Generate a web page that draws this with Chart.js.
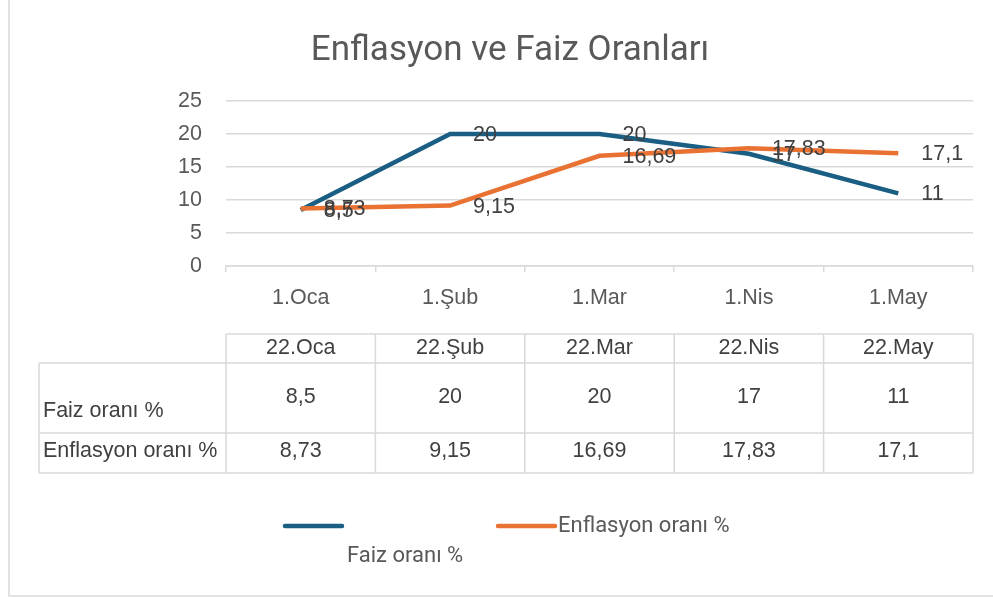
<!DOCTYPE html>
<html>
<head>
<meta charset="utf-8">
<script src="https://cdn.jsdelivr.net/npm/chart.js@4.4.1/dist/chart.umd.min.js"></script>
<style>
  html, body { margin: 0; padding: 0; background: #fff; }
  #wrap { position: relative; width: 993px; height: 598px; }
</style>
</head>
<body>
<div id="wrap"><canvas id="chart" width="993" height="598"></canvas></div>
<script>
// veriler
const axisLabels = ['1.Oca', '1.Şub', '1.Mar', '1.Nis', '1.May'];
const tableHeaders = ['22.Oca', '22.Şub', '22.Mar', '22.Nis', '22.May'];
const faizLabel = 'Faiz oranı %';
const enflasyonLabel = 'Enflasyon oranı %';
const faizValues = [8.5, 20, 20, 17, 11];
const enflasyonValues = [8.73, 9.15, 16.69, 17.83, 17.1];
const yTicks = [0, 5, 10, 15, 20, 25];

const BLUE = '#1b5e83';
const ORANGE = '#e97132';
const GRID = '#d9d9d9';
const TXT = '#404040';
const FONT = '"Liberation Sans", Arial, sans-serif';
const NARROW = '"Roboto", sans-serif';
const FS = 21.5;

const fmt = v => String(v).replace('.', ',');

// etiketler, tablo, başlık ve gösterge
const extras = {
    id: 'extras',
    afterDatasetsDraw(chart) {
        const ctx = chart.ctx;
        ctx.save();
        // veri etiketleri
        ctx.font = FS + 'px ' + FONT;
        ctx.fillStyle = TXT;
        ctx.textAlign = 'left';
        ctx.textBaseline = 'middle';
        chart.data.datasets.forEach((ds, i) => {
            chart.getDatasetMeta(i).data.forEach((pt, j) => {
                ctx.fillText(fmt(ds.data[j]), pt.x + 23, pt.y + 1);
            });
        });
        ctx.restore();
    },
    afterDraw(chart) {
        const ctx = chart.ctx;
        const x = chart.scales.x;
        const n = axisLabels.length;
        const half = (x.getPixelForValue(1) - x.getPixelForValue(0)) / 2;
        const edges = [];
        for (let i = 0; i < n; i++) edges.push(x.getPixelForValue(i) - half);
        edges.push(x.getPixelForValue(n - 1) + half);
        ctx.save();

        // başlık
        ctx.font = '35px ' + NARROW;
        ctx.fillStyle = '#595959';
        ctx.textAlign = 'center';
        ctx.textBaseline = 'alphabetic';
        ctx.fillText('Enflasyon ve Faiz Oranları', 510, 60);

        // veri tablosu
        const tLeft = 39, rows = [334, 363, 433, 473];
        ctx.strokeStyle = GRID;
        ctx.lineWidth = 1.5;
        ctx.beginPath();
        ctx.moveTo(edges[0], rows[0]); ctx.lineTo(edges[n], rows[0]);
        for (let r = 1; r < rows.length; r++) {
            ctx.moveTo(tLeft, rows[r]); ctx.lineTo(edges[n], rows[r]);
        }
        ctx.moveTo(tLeft, rows[1]); ctx.lineTo(tLeft, rows[3]);
        edges.forEach(e => { ctx.moveTo(e, rows[0]); ctx.lineTo(e, rows[3]); });
        ctx.stroke();

        ctx.font = FS + 'px ' + FONT;
        ctx.fillStyle = TXT;
        ctx.textAlign = 'center';
        ctx.textBaseline = 'middle';
        for (let i = 0; i < n; i++) {
            const cx = x.getPixelForValue(i);
            ctx.fillText(tableHeaders[i], cx, 348);
            ctx.fillText(fmt(faizValues[i]), cx, 397);
            ctx.fillText(fmt(enflasyonValues[i]), cx, 451);
        }
        ctx.textAlign = 'left';
        ctx.fillText(faizLabel, 43, 411);
        ctx.fillText(enflasyonLabel, 43, 451);

        // gösterge
        ctx.lineWidth = 4.5;
        ctx.lineCap = 'round';
        ctx.strokeStyle = BLUE;
        ctx.beginPath(); ctx.moveTo(285, 526); ctx.lineTo(342, 526); ctx.stroke();
        ctx.strokeStyle = ORANGE;
        ctx.beginPath(); ctx.moveTo(498, 526); ctx.lineTo(555, 526); ctx.stroke();
        ctx.font = '22px ' + NARROW;
        ctx.fillStyle = '#595959';
        ctx.fillText(faizLabel, 347, 556);
        ctx.fillText(enflasyonLabel, 558, 526);

        // çerçeve
        ctx.strokeStyle = GRID;
        ctx.lineWidth = 1.5;
        ctx.lineCap = 'butt';
        ctx.beginPath();
        ctx.moveTo(9, 0); ctx.lineTo(9, 596); ctx.lineTo(993, 596);
        ctx.stroke();
        ctx.restore();
    }
};

new Chart(document.getElementById('chart'), {
    type: 'line',
    data: {
        labels: axisLabels,
        datasets: [
            { label: faizLabel, data: faizValues, borderColor: BLUE, backgroundColor: BLUE,
              borderWidth: 4.5, pointRadius: 0, tension: 0, order: 1 },
            { label: enflasyonLabel, data: enflasyonValues, borderColor: ORANGE, backgroundColor: ORANGE,
              borderWidth: 4.5, pointRadius: 0, tension: 0, order: 0 }
        ]
    },
    options: {
        responsive: false,
        animation: false,
        layout: { padding: { top: 101, right: 20, left: 0, bottom: 0 } },
        plugins: { legend: { display: false }, title: { display: false }, tooltip: { enabled: false } },
        scales: {
            x: {
                offset: true,
                grid: { offset: true, drawOnChartArea: false, color: GRID, tickLength: 6, lineWidth: 1.5 },
                border: { color: GRID, width: 1.5 },
                ticks: { color: '#595959', font: { family: FONT, size: FS }, padding: 13, maxRotation: 0 },
                afterFit: s => { s.height = 332; }
            },
            y: {
                min: 0, max: 25,
                afterBuildTicks: s => { s.ticks = yTicks.map(v => ({ value: v })); },
                grid: { color: GRID, drawTicks: false, lineWidth: 1.5 },
                border: { display: false },
                ticks: { color: '#595959', font: { family: FONT, size: FS }, padding: 24 },
                afterFit: s => { s.width = 226; }
            }
        }
    },
    plugins: [extras]
});
</script>
</body>
</html>
